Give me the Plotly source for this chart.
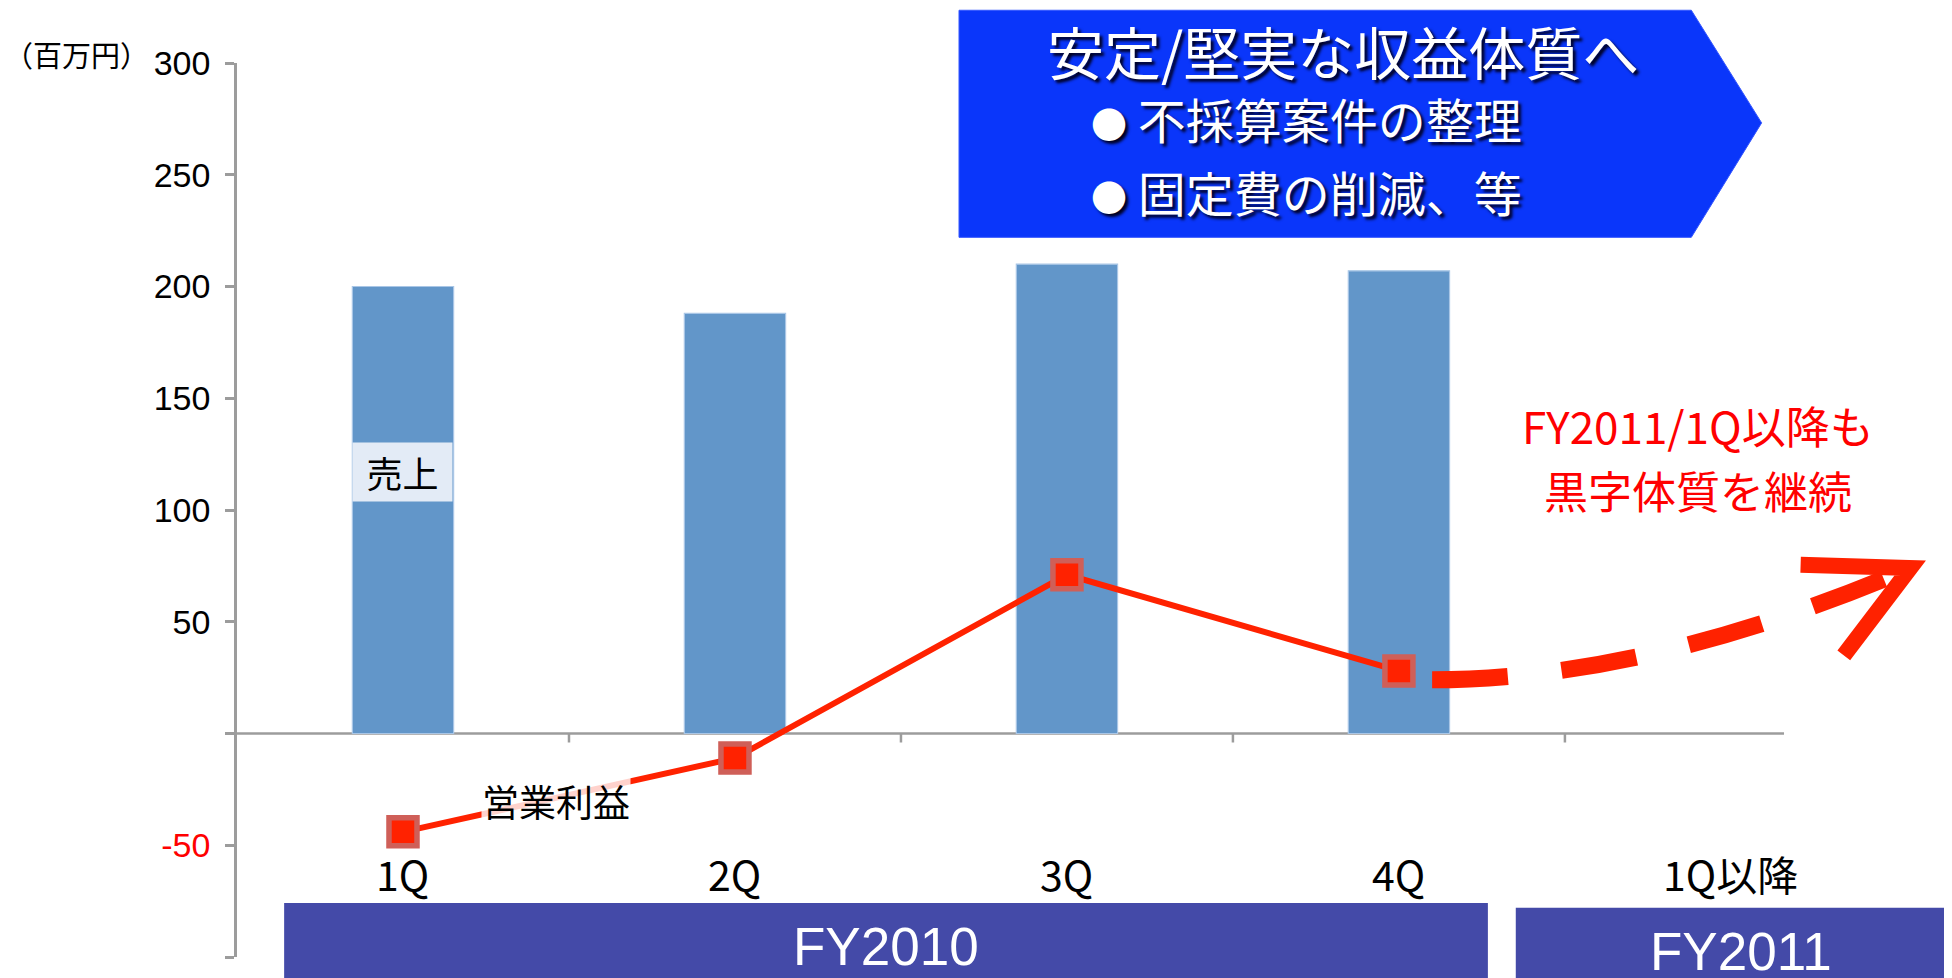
import plotly.graph_objects as go

# ---- data ----
categories = ["1Q", "2Q", "3Q", "4Q", "1Q以降"]
fiscal_years = ["FY2010", "FY2011"]
sales = [200, 188, 210, 207]           # 売上 (百万円)
op_income = [-44, -11, 71, 28]         # 営業利益 (百万円)
y_ticks = [-100, -50, 0, 50, 100, 150, 200, 250, 300]

JP = "Noto Sans CJK JP"
BAR = "#6296C9"
RED = "#FF2200"
GREY = "#9C9C9C"
NAVY = "#444AA8"
BLUE = "#0A36FA"

xs = list(range(len(sales)))


def tick_label(v):
    if v in (0, -100):
        return ""
    if v < 0:
        return f'<span style="color:#FF0000">{v}</span>'
    return str(v)


fig = go.Figure()
fig.add_trace(go.Bar(
    x=xs, y=sales, width=0.305, name="売上",
    marker=dict(color=BAR, line=dict(color="#A9C6E6", width=1.2)),
))
fig.add_trace(go.Scatter(
    x=xs, y=op_income, mode="lines+markers", name="営業利益",
    line=dict(color=RED, width=6),
    marker=dict(symbol="square", size=28, color=RED,
                line=dict(color="#CF5F58", width=5.5)),
))

shapes = []
# zero line (x axis) and category boundary ticks
shapes.append(dict(type="line", xref="x", yref="y", x0=-0.5, x1=4.16, y0=0, y1=0,
                   line=dict(color=GREY, width=2.5), layer="below"))
for b in [i + 0.5 for i in range(len(sales))]:
    shapes.append(dict(type="line", xref="x", yref="y", x0=b, x1=b,
                       ysizemode="pixel", yanchor=0, y0=0, y1=-9,
                       line=dict(color=GREY, width=2.5), layer="below"))

# dashed continuation arrow from last data point
x0 = xs[-1] + 0.1
y0 = op_income[-1] - 4
ex, ey = x0 + 1.44, y0 + 50
shapes.append(dict(type="path", xref="x", yref="y",
                   path=f"M {x0},{y0} Q {x0 + 0.65},{y0} {ex},{ey}",
                   line=dict(color=RED, width=17, dash="76px,54px"), layer="above"))
shapes.append(dict(type="path", xref="x", yref="y",
                   path=f"M {ex - 0.33},{ey + 1.5} L {ex},{ey} L {ex - 0.2},{ey - 39}",
                   line=dict(color=RED, width=16), layer="above"))

# fiscal year bars below the axis
shapes.append(dict(type="rect", xref="x", yref="paper", x0=-0.358, x1=3.268,
                   y0=-0.05, y1=0.0604, fillcolor=NAVY, line=dict(width=0), layer="above"))
shapes.append(dict(type="rect", xref="x", yref="paper", x0=3.352, x1=4.8,
                   y0=-0.05, y1=0.055, fillcolor=NAVY, line=dict(width=0), layer="above"))

# blue pentagon callout
shapes.append(dict(type="path", xref="paper", yref="paper",
                   path="M 0.421,1.059 L 0.848,1.059 L 0.889,0.933 L 0.848,0.805 L 0.421,0.805 Z",
                   fillcolor=BLUE, line=dict(color="#3355FF", width=1), layer="above"))

annotations = []
for i, c in enumerate(categories):
    annotations.append(dict(x=i, y=0.094, xref="x", yref="paper", text=c, showarrow=False,
                            yanchor="middle", xanchor="center",
                            font=dict(family=JP, size=41, color="black")))
annotations.append(dict(x=1.455, y=0.0123, xref="x", yref="paper", text=fiscal_years[0],
                        showarrow=False, yanchor="middle", xanchor="center",
                        font=dict(family="Liberation Sans", size=53, color="white")))
annotations.append(dict(x=4.03, y=0.0056, xref="x", yref="paper", text=fiscal_years[1],
                        showarrow=False, yanchor="middle", xanchor="center",
                        font=dict(family="Liberation Sans", size=53, color="white")))

annotations.append(dict(x=xs[0], y=117, xref="x", yref="y", text="売上", showarrow=False,
                        bgcolor="#E3EBF6", width=99, height=58, borderpad=0,
                        yanchor="middle", xanchor="center",
                        font=dict(family=JP, size=36, color="black")))
annotations.append(dict(x=0.46, y=-30, xref="x", yref="y", text="営業利益", showarrow=False,
                        bgcolor="rgba(255,255,255,0.8)", borderpad=0,
                        yanchor="middle", xanchor="center",
                        font=dict(family=JP, size=37, color="black")))

annotations.append(dict(x=-0.0935, y=1.01, xref="paper", yref="paper", text="（百万円）",
                        showarrow=False, xanchor="center", yanchor="middle",
                        font=dict(family=JP, size=29, color="black")))

shadow = "3px 3px 3px #000022"
bullet = '<span style="font-size:36px">●</span> '
annotations.append(dict(x=0.645, y=1.015, xref="paper", yref="paper",
                        text="安定/堅実な収益体質へ", showarrow=False,
                        xanchor="center", yanchor="middle",
                        font=dict(family=JP, size=57, color="white", shadow=shadow)))
annotations.append(dict(x=0.497, y=0.938, xref="paper", yref="paper",
                        text=bullet + "不採算案件の整理", showarrow=False,
                        xanchor="left", yanchor="middle",
                        font=dict(family=JP, size=48, color="white", shadow=shadow)))
annotations.append(dict(x=0.497, y=0.857, xref="paper", yref="paper",
                        text=bullet + "固定費の削減、等", showarrow=False,
                        xanchor="left", yanchor="middle",
                        font=dict(family=JP, size=48, color="white", shadow=shadow)))

annotations.append(dict(x=0.852, y=0.595, xref="paper", yref="paper",
                        text="FY2011/1Q以降も", showarrow=False,
                        xanchor="center", yanchor="middle",
                        font=dict(family=JP, size=44, color="#FF0000")))
annotations.append(dict(x=0.852, y=0.522, xref="paper", yref="paper",
                        text="黒字体質を継続", showarrow=False,
                        xanchor="center", yanchor="middle",
                        font=dict(family=JP, size=44, color="#FF0000")))

# page body has an 8px margin, so the figure is shifted by 8px
fig.update_layout(
    width=1944, height=970,
    margin=dict(l=229, r=0, t=55, b=21),
    paper_bgcolor="white", plot_bgcolor="white",
    showlegend=False,
    shapes=shapes, annotations=annotations,
    font=dict(family=JP),
    xaxis=dict(range=[-0.5, 4.666], showline=False, showgrid=False, zeroline=False,
               showticklabels=False, ticks=""),
    yaxis=dict(range=[-100, 300], tickvals=y_ticks, ticktext=[tick_label(v) for v in y_ticks],
               showline=True, linecolor=GREY, linewidth=2.5, ticks="outside",
               ticklen=9, tickwidth=2.5, tickcolor=GREY, showgrid=False, zeroline=False,
               ticklabelstandoff=8,
               tickfont=dict(family="Liberation Sans", size=34, color="black")),
)

fig.write_html("out.html")
